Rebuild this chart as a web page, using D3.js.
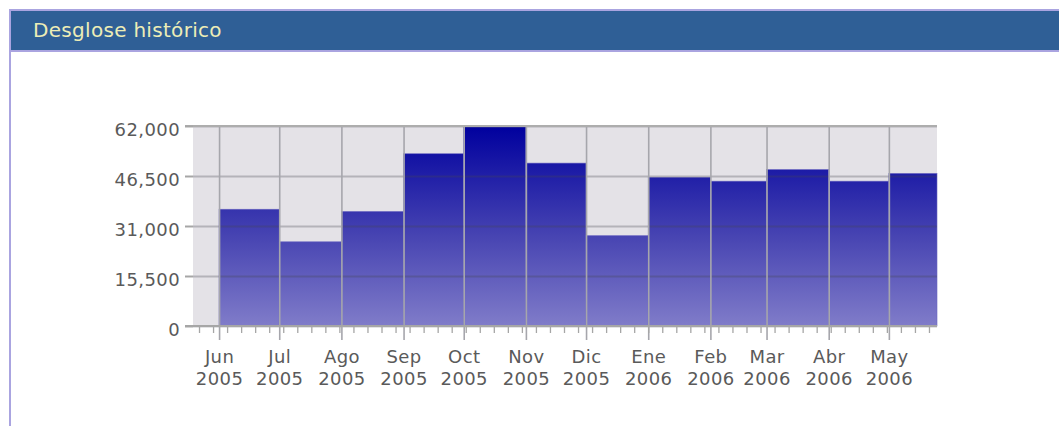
<!DOCTYPE html>
<html>
<head>
<meta charset="utf-8">
<script src="https://cdn.jsdelivr.net/npm/d3@7"></script>
<style>
  body { margin: 0; background: #fff; }
  svg { display: block; }
  .lbl { font-family: "DejaVu Sans", Verdana, sans-serif; font-size: 18px; fill: #5a5a5a; letter-spacing: 0.4px; }
</style>
</head>
<body>
<div id="chart"></div>
<script>
// data
var monthNames = ["Jun", "Jul", "Ago", "Sep", "Oct", "Nov", "Dic", "Ene", "Feb", "Mar", "Abr", "May"];
var yearNames = ["2005", "2005", "2005", "2005", "2005", "2005", "2005", "2006", "2006", "2006", "2006", "2006"];
var totals = [36200, 26100, 35500, 53400, 61700, 50500, 28000, 46100, 44900, 48500, 44900, 47300];
var yTicks = [0, 15500, 31000, 46500, 62000];
var title = "Desglose histórico";

var width = 1059, height = 426;
var svg = d3.select("#chart").append("svg")
    .attr("width", width)
    .attr("height", height);

// panel frame + header
svg.append("rect").attr("x", 9).attr("y", 9).attr("width", 2).attr("height", height - 9).attr("fill", "#aaa4e0");
svg.append("rect").attr("x", 9).attr("y", 9).attr("width", width - 9).attr("height", 43).attr("fill", "#aaa4e0");
svg.append("rect").attr("x", 11).attr("y", 11).attr("width", width - 11).attr("height", 39).attr("fill", "#2f5f96");
svg.append("text")
    .attr("x", 33).attr("y", 37)
    .style("font-family", "'DejaVu Sans', Verdana, sans-serif")
    .style("font-size", "20px")
    .style("letter-spacing", "0.3px")
    .attr("fill", "#ededb6")
    .text(title);

var plot = {left: 193, right: 937, top: 126, bottom: 326};

var x = d3.scaleUtc()
    .domain([new Date(Date.UTC(2005, 4, 19)), new Date(Date.UTC(2006, 4, 25))])
    .range([plot.left, plot.right])
    .clamp(true);
var y = d3.scaleLinear()
    .domain([0, 62000])
    .range([plot.bottom, plot.top]);

var starts = monthNames.map(function(m, i) { return new Date(Date.UTC(2005, 5 + i, 1)); });

var defs = svg.append("defs");
var grad = defs.append("linearGradient")
    .attr("id", "barGrad")
    .attr("gradientUnits", "userSpaceOnUse")
    .attr("x1", 0).attr("x2", 0)
    .attr("y1", plot.top).attr("y2", plot.bottom);
grad.append("stop").attr("offset", "0%").attr("stop-color", "#00009e");
grad.append("stop").attr("offset", "55%").attr("stop-color", "#4744b2");
grad.append("stop").attr("offset", "100%").attr("stop-color", "#807cc9");

// plot background
svg.append("rect")
    .attr("x", plot.left).attr("y", plot.top)
    .attr("width", plot.right - plot.left).attr("height", plot.bottom - plot.top)
    .attr("fill", "#e4e2e7");

// bars, one per month
svg.append("g").selectAll("rect")
    .data(totals)
  .enter().append("rect")
    .attr("x", function(d, i) { return x(starts[i]); })
    .attr("width", function(d, i) { return x(d3.utcMonth.offset(starts[i], 1)) - x(starts[i]); })
    .attr("y", function(d) { return y(d); })
    .attr("height", function(d) { return y(0) - y(d); })
    .attr("fill", "url(#barGrad)")
    .attr("stroke", "#6a66c0")
    .attr("stroke-width", 0.6);

// horizontal grid
var hgrid = svg.append("g")
    .attr("transform", "translate(" + plot.left + ",0)")
    .call(d3.axisLeft(y).tickValues(yTicks).tickSize(-(plot.right - plot.left)).tickFormat(""));
hgrid.select(".domain").remove();
hgrid.selectAll("line").attr("stroke", "rgba(70,70,80,0.3)").attr("stroke-width", 2);

// month lines, full height and below the axis
var vgrid = svg.append("g")
    .attr("transform", "translate(0,340)")
    .call(d3.axisTop(x).tickValues(starts).tickSize(340 - plot.top).tickFormat(""));
vgrid.select(".domain").remove();
vgrid.selectAll("line").attr("stroke", "#a6a6ac").attr("stroke-width", 1.6);

// weekly minor ticks
var minor = svg.append("g")
    .attr("transform", "translate(0," + plot.bottom + ")")
    .call(d3.axisBottom(x).ticks(d3.utcSunday).tickSize(7).tickFormat(""));
minor.select(".domain").remove();
minor.selectAll("line").attr("stroke", "#a6a6a6").attr("stroke-width", 1.3);

// bottom and top edges
svg.append("line")
    .attr("x1", 185).attr("x2", plot.right)
    .attr("y1", plot.bottom).attr("y2", plot.bottom)
    .attr("stroke", "#a6a6a6").attr("stroke-width", 2);
svg.append("line")
    .attr("x1", 185).attr("x2", plot.right)
    .attr("y1", plot.top).attr("y2", plot.top)
    .attr("stroke", "#adadad").attr("stroke-width", 2);

// y axis labels
var yAxis = svg.append("g")
    .attr("transform", "translate(" + plot.left + ",0)")
    .call(d3.axisLeft(y).tickValues(yTicks).tickSize(8).tickPadding(5).tickFormat(d3.format(",")));
yAxis.select(".domain").remove();
yAxis.selectAll("line").attr("stroke", "#a6a6a6").attr("stroke-width", 2);
yAxis.selectAll("text")
    .attr("class", "lbl")
    .attr("fill", null)
    .attr("dy", "0.55em");
yAxis.attr("font-family", null).attr("font-size", null);

// month / year labels
var xLab = svg.append("g")
    .attr("transform", "translate(0," + plot.bottom + ")")
    .call(d3.axisBottom(x).tickValues(starts).tickSize(0).tickFormat(""));
xLab.select(".domain").remove();
xLab.selectAll(".tick text")
    .attr("class", "lbl")
    .attr("fill", null)
    .attr("y", 0).attr("dy", null)
    .each(function(d, i) {
      var t = d3.select(this);
      t.append("tspan").attr("x", 0).attr("y", 37).text(monthNames[i]);
      t.append("tspan").attr("x", 0).attr("y", 58.5).text(yearNames[i]);
    });
xLab.attr("font-family", null).attr("font-size", null);
</script>
</body>
</html>
